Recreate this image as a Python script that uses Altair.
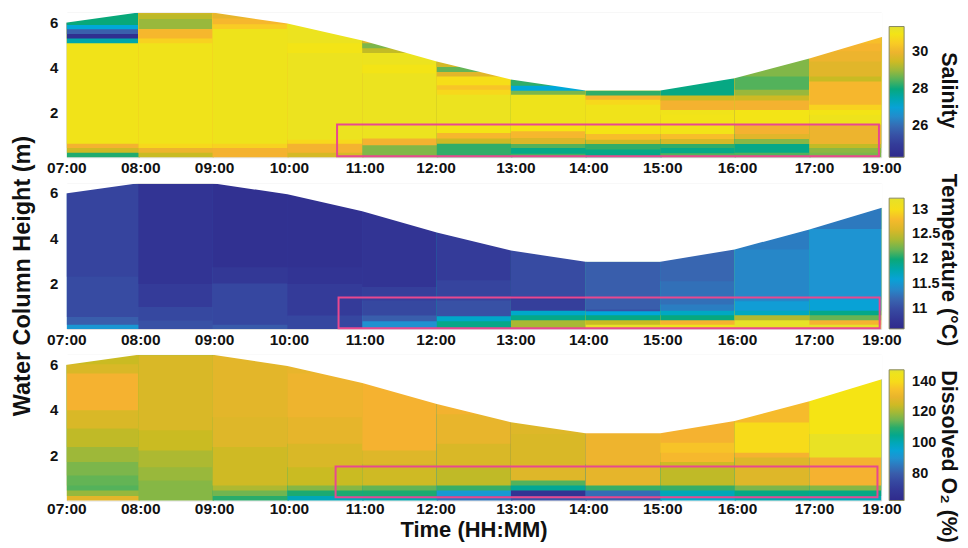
import altair as alt
import pandas as pd

FONT = "Liberation Sans"
TOP = 6.42

col_edges = [7.0, 7.967, 8.968, 9.979, 10.99, 11.997, 12.999, 14.006, 15.017, 16.02, 17.03, 18.0]
surface = [5.97, 6.42, 6.42, 5.93, 5.18, 4.25, 3.45, 2.96, 2.96, 3.5, 4.38, 5.35]
tick_labels = ["07:00", "08:00", "09:00", "10:00", "11:00", "12:00", "13:00", "14:00", "15:00", "16:00", "17:00", "19:00"]
tick_hours = [7.0, 7.998, 8.995, 10.006, 11.03, 11.988, 13.066, 14.05, 15.05, 16.06, 17.10, 18.01]

stop_fracs = [0, 0.12, 0.22, 0.33, 0.4, 0.47, 0.53, 0.62, 0.72, 0.82, 0.88, 0.93, 0.975, 1]
stop_colors = ["#2f2a8c", "#35409c", "#3a62ae", "#1e94d2", "#00a8d8", "#00a7a0", "#08a878", "#76b64e",
               "#c9bb22", "#f5b230", "#f9cf22", "#f5e414", "#eee31c", "#e2e030"]

# each column: (top of band in metres, value), bottom to top
salinity = [
    [(0.2, 28.2), (0.41, 29.5), (0.6, 30.1), (5.06, 31.1), (5.27, 27.55), (5.47, 24.5), (5.68, 25.8), (5.87, 27.14), (TOP, 28.05)],
    [(0.2, 29.4), (0.41, 30.0), (0.6, 30.7), (5.06, 31.15), (5.27, 30.6), (5.69, 30.2), (6.13, 29.0), (6.35, 29.3), (TOP, 29.6)],
    [(0.41, 30.1), (0.6, 30.6), (5.69, 31.2), (5.9, 30.5), (6.16, 30.2), (TOP, 29.9)],
    [(0.2, 29.6), (0.6, 30.1), (0.78, 30.7), (4.62, 31.25), (5.06, 31.0), (TOP, 31.25)],
    [(0.53, 28.8), (0.83, 30.1), (3.73, 31.25), (4.1, 31.0), (4.62, 31.25), (4.84, 29.35), (5.06, 28.75), (TOP, 29.8)],
    [(0.6, 28.3), (0.83, 29.5), (1.08, 30.2), (1.45, 31.0), (2.77, 31.25), (3.0, 30.7), (3.2, 30.4), (3.58, 30.8), (3.78, 29.8), (4.0, 28.6), (TOP, 29.6)],
    [(0.15, 28.4), (0.41, 27.9), (0.59, 28.5), (0.85, 29.7), (1.15, 30.2), (1.45, 30.9), (2.77, 31.2), (2.95, 28.75), (3.17, 27.14), (3.44, 28.3), (TOP, 28.5)],
    [(0.34, 27.9), (0.59, 28.3), (0.78, 29.5), (1.03, 30.3), (1.45, 30.95), (2.33, 31.15), (2.55, 30.7), (2.74, 30.2), (TOP, 28.3)],
    [(0.18, 28.5), (0.41, 27.9), (0.59, 28.3), (0.81, 29.6), (1.03, 30.3), (1.89, 31.05), (2.1, 31.15), (2.52, 30.1), (2.74, 29.5), (TOP, 27.95)],
    [(0.2, 28.5), (0.59, 27.9), (0.81, 28.85), (1.03, 29.8), (1.45, 30.1), (2.1, 31.0), (2.52, 30.1), (2.74, 29.5), (3.0, 29.0), (3.58, 28.5), (TOP, 28.8)],
    [(0.2, 28.75), (0.41, 28.9), (0.59, 29.35), (1.45, 30.0), (1.89, 31.2), (2.1, 31.0), (2.33, 30.6), (3.36, 30.2), (3.58, 29.4), (4.25, 29.8), (4.7, 30.0), (5.05, 30.15), (TOP, 30.3)],
]

temperature = [
    [(0.18, 11.5), (0.52, 11.15), (2.3, 11.0), (TOP, 10.95)],
    [(0.37, 11.05), (0.96, 10.98), (1.98, 10.85), (TOP, 10.75)],
    [(0.18, 11.12), (2.0, 10.97), (2.72, 10.8), (TOP, 10.7)],
    [(0.59, 10.97), (1.98, 10.85), (2.72, 10.75), (TOP, 10.7)],
    [(0.34, 11.45), (0.59, 11.15), (1.25, 10.98), (1.85, 10.9), (5.2, 10.75), (TOP, 10.7)],
    [(0.34, 11.93), (0.56, 11.7), (1.25, 11.05), (2.14, 10.95), (4.36, 10.85), (TOP, 10.97)],
    [(0.38, 12.39), (0.6, 11.93), (0.8, 11.7), (1.3, 10.9), (1.45, 10.85), (TOP, 11.0)],
    [(0.18, 13.2), (0.38, 12.49), (0.6, 11.95), (0.78, 11.65), (0.85, 11.05), (TOP, 11.15)],
    [(0.18, 13.15), (0.38, 12.76), (0.6, 11.97), (0.8, 11.72), (1.07, 11.34), (2.1, 11.26), (TOP, 11.2)],
    [(0.38, 13.2), (0.6, 12.41), (0.8, 11.73), (1.22, 11.55), (3.5, 11.39), (TOP, 11.33)],
    [(0.18, 13.2), (0.38, 12.76), (0.6, 12.2), (0.8, 11.93), (1.3, 11.6), (4.4, 11.47), (TOP, 11.31)],
]

oxygen = [
    [(0.2, 129), (0.44, 118.6), (0.66, 113), (1.1, 114), (1.7, 116), (2.36, 119.5), (3.17, 123), (3.98, 127), (5.6, 132.5), (6.0, 127), (TOP, 124)],
    [(0.88, 117), (1.47, 119), (2.2, 121), (3.1, 124), (TOP, 127)],
    [(0.2, 110), (0.44, 115), (0.66, 121), (2.36, 125), (3.67, 128), (TOP, 129)],
    [(0.2, 100), (0.44, 109), (0.66, 117), (1.47, 124), (2.5, 127), (3.67, 129.5), (5.6, 131), (TOP, 130)],
    [(0.2, 101), (0.44, 109), (0.66, 114), (1.6, 125), (2.2, 128), (TOP, 132.5)],
    [(0.2, 85), (0.44, 92), (0.66, 111), (1.47, 123), (2.5, 127), (3.8, 130), (TOP, 132)],
    [(0.2, 78), (0.44, 67), (0.66, 104), (0.88, 113), (1.6, 128), (2.93, 127), (3.96, 128), (TOP, 130)],
    [(0.2, 80), (0.44, 83), (0.66, 111), (1.6, 129.5), (2.93, 131), (TOP, 132.5)],
    [(0.2, 98), (0.44, 100), (0.66, 111), (1.47, 123), (1.7, 125), (2.1, 133.5), (2.55, 135.5), (TOP, 132.5)],
    [(0.2, 101), (0.44, 106), (0.66, 116), (1.9, 128), (2.1, 132.5), (3.44, 140), (TOP, 134)],
    [(0.2, 100), (0.44, 106), (0.66, 117), (1.9, 132.5), (2.93, 146.5), (TOP, 141.8)],
]


def bands_frame(columns):
    # bands are painted bottom to top, each reaching the column's highest surface, so no seams show
    rows = []
    for i, col in enumerate(columns):
        low = 0.0
        head = min(max(surface[i], surface[i + 1]), TOP - 0.03)
        for top, val in col:
            if low < head:
                rows.append({"x0": col_edges[i], "x1": min(col_edges[i + 1] + 0.02, 18.0), "y0": low, "y1": head, "v": val})
            low = top
    return pd.DataFrame(rows)


def panel(columns, lo, hi, legend_values, title, title_y, height, box, legend_y=15, tick_y=11):
    xs = alt.Scale(domain=[7, 18], nice=False, zero=False)
    ys = alt.Scale(domain=[0, TOP], nice=False, zero=False)
    domain = [lo + f * (hi - lo) for f in stop_fracs]
    cs = alt.Scale(domain=domain, range=stop_colors, interpolate="rgb")
    legend = alt.Legend(
        type="gradient", orient="none", legendX=824, legendY=legend_y, title=None, gradientLength=131,
        gradientThickness=15, values=legend_values, labelExpr="'' + datum.value", labelFont=FONT, labelFontSize=14.5,
        labelFontWeight="bold", labelColor="#111111", labelOffset=8, gradientStrokeColor="#8a8a60",
        gradientStrokeWidth=1,
    )
    bands = alt.Chart(bands_frame(columns)).mark_rect().encode(
        x=alt.X("x0:Q", scale=xs, axis=None),
        x2="x1:Q",
        y=alt.Y("y0:Q", scale=ys, axis=alt.Axis(values=[2, 4, 6], title=None, domain=False, ticks=False, grid=False,
                                                labelFont=FONT, labelFontSize=15, labelFontWeight="bold",
                                                labelColor="#111111", labelPadding=9, format="d")),
        y2="y1:Q",
        color=alt.Color("v:Q", scale=cs, legend=legend),
    )
    mask_x = [col_edges[0] - 0.02] + col_edges[1:-1] + [col_edges[-1] + 0.02]
    mask = alt.Chart(pd.DataFrame({"x": mask_x, "s": surface, "t": [TOP] * len(surface)})).mark_area(
        color="white"
    ).encode(x=alt.X("x:Q", scale=xs), y=alt.Y("s:Q", scale=ys), y2="t:Q")
    rect = alt.Chart(pd.DataFrame([box])).mark_rect(fill=None, stroke="#e8488f", strokeWidth=2).encode(
        x=alt.X("a:Q", scale=xs), x2="b:Q", y=alt.Y("c:Q", scale=ys), y2="d:Q"
    )
    ticks = alt.Chart(pd.DataFrame({"h": tick_hours, "l": tick_labels})).mark_text(
        font=FONT, fontSize=15.5, fontWeight="bold", color="#111111", baseline="middle", align="center"
    ).encode(x=alt.X("h:Q", scale=xs), y=alt.value(height + tick_y), text="l:N")
    side = alt.Chart(pd.DataFrame({"t": [title]})).mark_text(
        font=FONT, fontSize=21.5, fontWeight="bold", color="#111111", angle=90, baseline="middle", align="center"
    ).encode(x=alt.value(883), y=alt.value(title_y), text="t:N")
    return alt.layer(bands, mask, rect, ticks, side).resolve_scale(color="independent").properties(
        width=816, height=height
    )


p1 = panel(salinity, 24.3, 31.4, [26, 28, 30], "Salinity", 78, 145, {"a": 10.65, "b": 17.97, "c": 0.04, "d": 1.45}, legend_y=14)
p2 = panel(temperature, 10.6, 13.23, [11, 11.5, 12, 12.5, 13], "Temperature (°C)", 77, 146, {"a": 10.67, "b": 17.98, "c": 0.03, "d": 1.38})
p3 = panel(oxygen, 62.4, 147.8, [80, 100, 120, 140], "Dissolved O₂ (%)", 102, 146, {"a": 10.63, "b": 17.95, "c": 0.14, "d": 1.5}, tick_y=8.5)

ylab = alt.Chart(pd.DataFrame({"t": ["Water Column Height (m)"]})).mark_text(
    font=FONT, fontSize=23.5, fontWeight="bold", color="#111111", angle=270, baseline="middle", align="center"
).encode(x=alt.value(-44), y=alt.value(93), text="t:N")
xlab = alt.Chart(pd.DataFrame({"t": ["Time (HH:MM)"]})).mark_text(
    font=FONT, fontSize=22, fontWeight="bold", color="#111111", baseline="middle", align="center"
).encode(x=alt.value(408), y=alt.value(175.5), text="t:N")

chart = alt.vconcat(p1, alt.layer(p2, ylab), alt.layer(p3, xlab), spacing=26, bounds="flush").resolve_scale(
    color="independent"
).properties(padding={"left": 2, "top": 3, "right": 0, "bottom": 0}).configure_view(stroke=None).configure(background="white")

chart.save("out.html", embed_options={"renderer": "svg", "actions": False})
